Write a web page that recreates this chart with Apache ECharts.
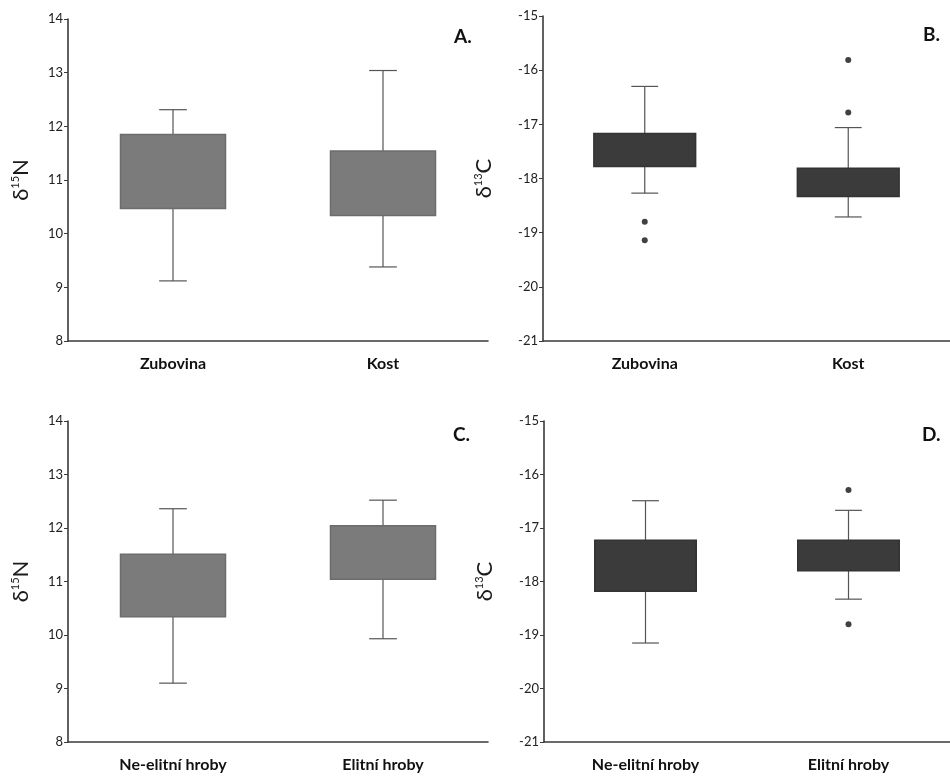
<!DOCTYPE html>
<html>
<head>
<meta charset="utf-8">
<script src="https://cdn.jsdelivr.net/npm/echarts@6/dist/echarts.min.js"></script>
<style>
html,body{margin:0;padding:0;background:#fff;}
#c{width:950px;height:777px;}
</style>
</head>
<body>
<div id="c"></div>
<script>
// categories
const catsAB = ['Zubovina', 'Kost'];
const catsCD = ['Ne-elitní hroby', 'Elitní hroby'];
// box stats: [whiskerLow, q1, q3, whiskerHigh]
const boxA = [[9.12, 10.47, 11.85, 12.31], [9.38, 10.34, 11.54, 13.04]];
const boxB = [[-18.27, -17.78, -17.17, -16.30], [-18.71, -18.33, -17.81, -17.06]];
const boxC = [[9.10, 10.34, 11.51, 12.36], [9.93, 11.04, 12.04, 12.52]];
const boxD = [[-19.15, -18.18, -17.23, -16.49], [-18.33, -17.80, -17.23, -16.67]];
// outliers: [categoryIndex, value]
const outB = [[0, -18.80], [0, -19.14], [1, -15.81], [1, -16.78]];
const outD = [[1, -16.29], [1, -18.80]];
// axis ticks
const nTicks = {min: 8, max: 14, interval: 1};
const cTicks = {min: -21, max: -15, interval: 1};
const panelLetters = ['A.', 'B.', 'C.', 'D.'];

const FONT = 'Lato, "Open Sans", sans-serif';
const grids = [
  {left: 68, top: 19, width: 420, height: 322},
  {left: 543, top: 16, width: 416, height: 325},
  {left: 68, top: 421, width: 420, height: 321},
  {left: 544, top: 421, width: 416, height: 321}
];

function xAx(i, cats) {
  return {
    type: 'category', gridIndex: i, data: cats,
    axisLine: {lineStyle: {color: '#3a3a3a', width: 1.6}},
    axisTick: {show: false},
    axisLabel: {color: '#111', fontSize: 16, fontWeight: 'bold', fontFamily: FONT, margin: 15},
    splitLine: {show: false}
  };
}
function yAx(i, t, isN) {
  return {
    type: 'value', gridIndex: i, min: t.min, max: t.max, interval: t.interval,
    axisLine: {show: true, lineStyle: {color: '#3a3a3a', width: 1.6}},
    axisTick: {show: true, length: 4, lineStyle: {color: '#3a3a3a'}},
    axisLabel: {color: '#222', fontSize: 13, fontFamily: FONT, margin: 5},
    splitLine: {show: false},
    name: isN ? '{d|δ}{s|15}{d|N}' : '{d|δ}{s|13}{d|C}',
    nameLocation: 'middle', nameRotate: 90, nameGap: isN ? 36 : 48,
    nameTextStyle: {
      rich: {
        d: {fontSize: 22, fontFamily: FONT, color: '#1a1a1a'},
        s: {fontSize: 11, fontFamily: FONT, color: '#1a1a1a', verticalAlign: 'top', padding: [0, 0, 10, 0]}
      }
    }
  };
}

function boxSeries(i, data, color, border) {
  return {
    type: 'custom', xAxisIndex: i, yAxisIndex: i,
    data: data.map((d, k) => [k].concat(d)),
    renderItem: function (params, api) {
      const x = api.value(0);
      const low = api.coord([x, api.value(1)]);
      const q1 = api.coord([x, api.value(2)]);
      const q3 = api.coord([x, api.value(3)]);
      const high = api.coord([x, api.value(4)]);
      const bw = api.size([1, 0])[0];
      const hw = bw * 0.25;
      const cw = bw * 0.066;
      const ls = {stroke: '#555', lineWidth: 1.2};
      return {
        type: 'group',
        children: [
          {type: 'line', shape: {x1: high[0], y1: high[1], x2: q3[0], y2: q3[1]}, style: ls},
          {type: 'line', shape: {x1: q1[0], y1: q1[1], x2: low[0], y2: low[1]}, style: ls},
          {type: 'line', shape: {x1: high[0] - cw, y1: high[1], x2: high[0] + cw, y2: high[1]}, style: ls},
          {type: 'line', shape: {x1: low[0] - cw, y1: low[1], x2: low[0] + cw, y2: low[1]}, style: ls},
          {type: 'rect', shape: {x: q3[0] - hw, y: q3[1], width: hw * 2, height: q1[1] - q3[1]},
            style: {fill: color, stroke: border, lineWidth: 1.5}}
        ]
      };
    }
  };
}
function outSeries(i, data) {
  return {
    type: 'scatter', xAxisIndex: i, yAxisIndex: i, data: data,
    symbol: 'circle', symbolSize: 6, itemStyle: {color: '#111'}
  };
}

const chart = echarts.init(document.getElementById('c'), null, {renderer: 'canvas'});
chart.setOption({
  animation: false,
  backgroundColor: '#ffffff',
  grid: grids,
  xAxis: [xAx(0, catsAB), xAx(1, catsAB), xAx(2, catsCD), xAx(3, catsCD)],
  yAxis: [yAx(0, nTicks, true), yAx(1, cTicks, false), yAx(2, nTicks, true), yAx(3, cTicks, false)],
  title: [
    {text: panelLetters[0], left: 449, top: 22},
    {text: panelLetters[1], left: 918, top: 20},
    {text: panelLetters[2], left: 448, top: 420},
    {text: panelLetters[3], left: 917, top: 420}
  ].map(t => Object.assign(t, {textStyle: {fontSize: 19, fontWeight: 'bold', color: '#111', fontFamily: FONT}})),
  series: [
    boxSeries(0, boxA, '#7b7b7b', '#6c6c6c'),
    boxSeries(1, boxB, '#3b3b3b', '#333'),
    outSeries(1, outB),
    boxSeries(2, boxC, '#7b7b7b', '#6c6c6c'),
    boxSeries(3, boxD, '#3b3b3b', '#333'),
    outSeries(3, outD)
  ]
});
</script>
</body>
</html>
